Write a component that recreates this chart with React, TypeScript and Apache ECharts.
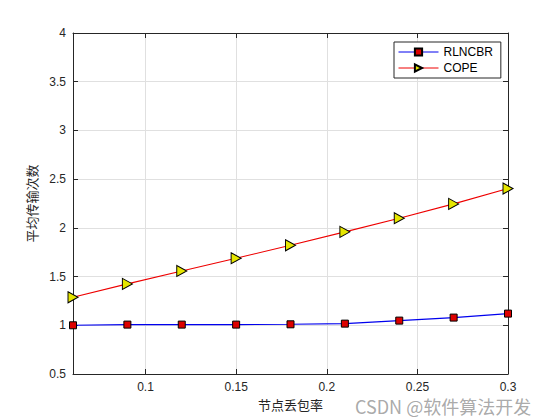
import React, { useEffect, useRef } from "react";
import * as echarts from "echarts";

const xValues = [0.06, 0.09, 0.12, 0.15, 0.18, 0.21, 0.24, 0.27, 0.3];
const rlncbr = [1.0, 1.007, 1.007, 1.007, 1.01, 1.017, 1.048, 1.079, 1.12];
const cope = [1.287, 1.425, 1.558, 1.688, 1.821, 1.959, 2.099, 2.246, 2.403];
const xTicks = [0.1, 0.15, 0.2, 0.25, 0.3];
const seriesNames = ["RLNCBR", "COPE"];

const axisColor = "#262626";
const font = "Arial, 'Liberation Sans', sans-serif";
const rightTri = "path://M0,0 L10,5 L0,10 Z";

export default function App() {
  const ref = useRef<HTMLDivElement>(null);
  useEffect(() => {
    const chart = echarts.init(ref.current!, null, { renderer: "svg" });
    const toPairs = (ys: number[]) => xValues.map((x, i) => [x, ys[i]]);
    const baseX = {
      type: "value",
      min: 0.06,
      max: 0.3,
      axisLine: { show: true, onZero: false, lineStyle: { color: axisColor, width: 1 } },
      axisTick: { show: true, inside: true, length: 5, customValues: xTicks, lineStyle: { color: axisColor } },
    };
    const baseY = {
      type: "value",
      min: 0.5,
      max: 4,
      interval: 0.5,
      axisLine: { show: true, onZero: false, lineStyle: { color: axisColor, width: 1 } },
      axisTick: { show: true, inside: true, length: 5, lineStyle: { color: axisColor } },
    };
    chart.setOption({
      animation: false,
      backgroundColor: "#ffffff",
      grid: { left: 73, right: 52, top: 33, bottom: 46, containLabel: false },
      legend: {
        left: 394,
        top: 42,
        orient: "vertical",
        backgroundColor: "#fff",
        borderColor: "#262626",
        borderWidth: 1,
        borderRadius: 0,
        padding: [4, 8, 4, 4],
        itemGap: 4,
        itemWidth: 40,
        itemHeight: 9,
        lineStyle: { width: 1 },
        textStyle: { fontFamily: font, fontSize: 12, color: "#000" },
        data: seriesNames,
      },
      xAxis: [
        {
          ...baseX,
          position: "bottom",
          name: "节点丢包率",
          nameLocation: "middle",
          nameGap: 24,
          nameTextStyle: { fontFamily: "'Noto Sans CJK SC'", fontSize: 13, color: axisColor },
          axisLabel: {
            show: true,
            customValues: xTicks,
            margin: 7,
            fontFamily: font,
            fontSize: 12,
            color: axisColor,
            formatter: (v: number) => String(Number(v.toFixed(2))),
          },
          splitLine: { show: true, lineStyle: { color: "#e0e0e0", width: 1 } },
        },
        {
          ...baseX,
          position: "top",
          axisLabel: { show: false },
          splitLine: { show: false },
        },
      ],
      yAxis: [
        {
          ...baseY,
          position: "left",
          name: "平均传输次数",
          nameLocation: "middle",
          nameGap: 33,
          nameTextStyle: { fontFamily: "'Noto Sans CJK SC'", fontSize: 13, color: axisColor },
          axisLabel: { margin: 7, fontFamily: font, fontSize: 12, color: axisColor },
          splitLine: { show: true, lineStyle: { color: "#e0e0e0", width: 1 } },
        },
        {
          ...baseY,
          position: "right",
          axisLabel: { show: false },
          splitLine: { show: false },
        },
      ],
      series: [
        {
          name: seriesNames[0],
          type: "line",
          data: toPairs(rlncbr),
          symbol: "rect",
          symbolSize: 7,
          showAllSymbol: true,
          lineStyle: { color: "#0000ee", width: 1.1 },
          itemStyle: { color: "#dd0000", borderColor: "#000", borderWidth: 1 },
          z: 3,
        },
        {
          name: seriesNames[1],
          type: "line",
          data: toPairs(cope),
          symbol: rightTri,
          symbolSize: [10, 11],
          showAllSymbol: true,
          lineStyle: { color: "#ee0000", width: 1.1 },
          itemStyle: { color: "#e6e600", borderColor: "#000", borderWidth: 1 },
          z: 4,
        },
      ],
      graphic: [
        {
          type: "text",
          left: 355,
          top: 397,
          style: {
            text: "CSDN @软件算法开发",
            fontFamily: "'Noto Sans CJK SC'",
            fontSize: 18,
            fill: "rgba(160,160,160,0.9)",
          },
        },
      ],
    });
    return () => chart.dispose();
  }, []);
  return <div ref={ref} style={{ width: 560, height: 420, marginLeft: -8, marginTop: -8 }} />;
}
